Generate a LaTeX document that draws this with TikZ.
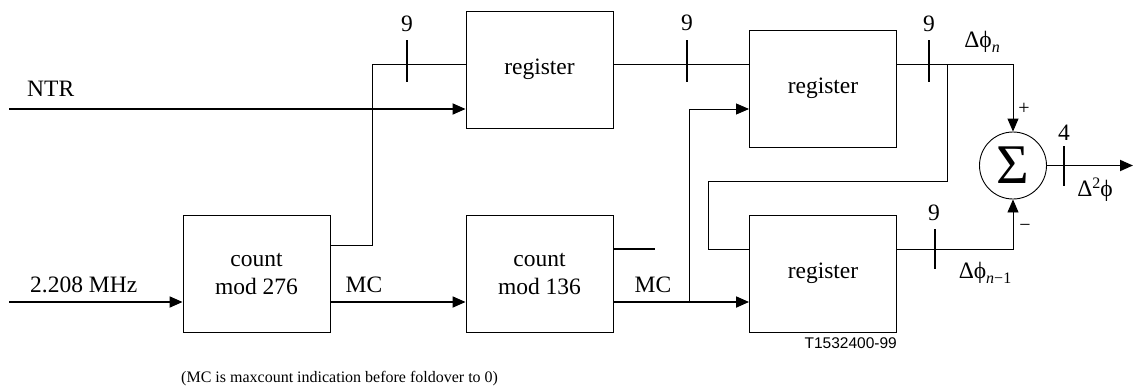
\documentclass[tikz,border=0pt]{standalone}
\usepackage{fontspec}
\setmainfont{Liberation Serif}
\newfontfamily\sansf{Liberation Sans}
\usetikzlibrary{arrows.meta}
\begin{document}
\begin{tikzpicture}[x=1pt,y=-1pt,
  blk/.style={draw, line width=0.9pt, minimum width=147pt, minimum height=117pt,
    inner sep=0pt, align=center, font=\fontsize{23.5}{28}\selectfont},
  thinln/.style={line width=0.9pt},
  boldln/.style={line width=1.8pt},
  arr/.style={-{Triangle[length=13pt,width=11pt]}},
  tk/.style={line width=1.8pt},
  lbl/.style={font=\fontsize{23.5}{28}\selectfont, inner sep=0pt},
  sgn/.style={font=\fontsize{20}{20}\selectfont, inner sep=0pt}
]
\useasboundingbox (0,0) rectangle (1133,389);

% blocks
\node[blk] (reg1) at (539.5,69.5) {register};
\node[blk] (reg2) at (823,88.5) {register};
\node[blk] (reg3) at (823,273.5) {register};
\node[blk] (c276) at (256.5,273.5) {count\\mod 276};
\node[blk] (c136) at (539.5,273.5) {count\\mod 136};
\node[draw, circle, minimum size=67pt, inner sep=0pt, line width=0.9pt] (sum)
  at (1013,165.5) {\fontsize{56}{56}\selectfont Σ};

% helper coordinates
\coordinate (ntr) at (9,109);
\coordinate (clk) at (9,302);
\coordinate (c1) at (372,245);
\coordinate (t1) at (372,64);
\coordinate (br) at (689,302);
\coordinate (f1) at (947,64);
\coordinate (f2) at (708,181);
\coordinate (low) at (0,249);
\coordinate (stub) at (655,249);
\coordinate (out) at (1133,165.5);

% inputs
\draw[boldln,arr] (ntr) -- (ntr -| reg1.west);
\node[lbl, anchor=west] (ntrl) at (27,89) {NTR};
\draw[boldln,arr] (clk) -- (clk -| c276.west);
\node[lbl, anchor=west] (clkl) at (30,285) {2.208 MHz};

% counters
\draw[boldln,arr] (c276.east |- clk) -- (c136.west |- clk);
\node[lbl] (mc1) at (364,285) {MC};
\draw[boldln,arr] (c136.east |- clk) -- (reg3.west |- clk);
\node[lbl] (mc2) at (653,285) {MC};
\draw[boldln] (c136.east |- low) -- (stub);
\draw[thinln,arr] (br) |- (reg2.west |- ntr);

% c276 -> reg1
\draw[thinln] (c276.east |- c1) -| (t1) -- (reg1.west |- t1);
\draw[tk] (407,40) -- (407,82);
\node[lbl] (n1) at (407,24) {9};

% reg1 -> reg2
\draw[thinln] (reg1.east |- t1) -- (reg2.west |- t1);
\draw[tk] (687,40) -- (687,82);
\node[lbl] (n2) at (687,23) {9};

% reg2 -> sum
\draw[thinln,arr] (reg2.east |- t1) -| (sum.north);
\draw[tk] (929,40) -- (929,82);
\node[lbl] (n3) at (929,24) {9};
\node[lbl] (dpn) at (982,42) {Δϕ\raisebox{-5pt}{\fontsize{16}{16}\selectfont\itshape n}};
\node[sgn] (plus) at (1024,109) {+};

% feedback
\draw[thinln] (f1) |- (f2) |- (reg3.west |- low);

% reg3 -> sum
\draw[thinln,arr] (reg3.east |- low) -| (sum.south);
\draw[tk] (935,229) -- (935,269);
\node[lbl] (n4) at (934,213) {9};
\node[lbl] (dpn1) at (985,273) {Δϕ\raisebox{-5pt}{\fontsize{16}{16}\selectfont\itshape n\upshape −1}};
\node[sgn] (minus) at (1025,228) {−};

% output
\draw[boldln,arr] (sum.east) -- (out);
\draw[tk] (1064,146) -- (1064,186);
\node[lbl] (n5) at (1064,133) {4};
\node[lbl] (d2p) at (1095,190) {Δ\raisebox{8pt}{\fontsize{16}{16}\selectfont 2}ϕ};

% notes
\node[inner sep=0pt, anchor=east, font=\sansf\fontsize{15.5}{16}\selectfont] (tag) at (897,343.5) {T1532400-99};
\node[inner sep=0pt, anchor=west, font=\fontsize{16}{19}\selectfont] (cap) at (181,379) {(MC is maxcount indication before foldover to 0)};
\end{tikzpicture}
\end{document}
